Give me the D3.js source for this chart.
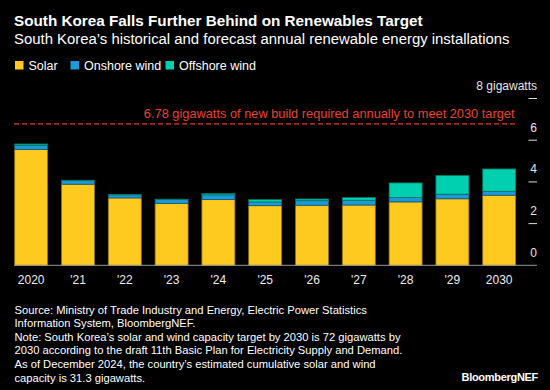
<!DOCTYPE html>
<html><head><meta charset="utf-8">
<script src="https://cdn.jsdelivr.net/npm/d3@7"></script>
<style>html,body{margin:0;padding:0;background:#000;}svg{display:block;font-family:"Liberation Sans",Arial,Helvetica,sans-serif;}</style>
</head><body>
<script>
const years = ["2020","'21","'22","'23","'24","'25","'26","'27","'28","'29","2030"];
const solar    = [5.56,3.89,3.23,2.97,3.15,2.86,2.88,2.89,3.04,3.19,3.36];
const onshore  = [0.20,0.17,0.15,0.18,0.23,0.18,0.22,0.23,0.21,0.22,0.19];
const offshore = [0.06,0.02,0.02,0.02,0.06,0.11,0.08,0.13,0.70,0.90,1.07];
const seriesNames = ["Solar","Onshore wind","Offshore wind"];
const colors = ["#FFCA1F","#1A9AD8","#00D0B0"];
const yTicks = [0,2,4,6,8];
const target = 6.78;
const targetLabel = "6.78 gigawatts of new build required annually to meet 2030 target";
const title = "South Korea Falls Further Behind on Renewables Target";
const subtitle = "South Korea\u2019s historical and forecast annual renewable energy installations";
const notes = [
 "Source: Ministry of Trade Industry and Energy, Electric Power Statistics",
 "Information System, BloombergNEF.",
 "Note: South Korea\u2019s solar and wind capacity target by 2030 is 72 gigawatts by",
 "2030 according to the draft 11th Basic Plan for Electricity Supply and Demand.",
 "As of December 2024, the country\u2019s estimated cumulative solar and wind",
 "capacity is 31.3 gigawatts."
];

const W=550,H=390;
const svg=d3.select("body").append("svg").attr("width",W).attr("height",H);
svg.append("rect").attr("width",W).attr("height",H).attr("fill","#000");

function fit(sel,target){const w=sel.node().getComputedTextLength();const fs=parseFloat(sel.attr("font-size"));sel.attr("font-size",(fs*target/w).toFixed(2));}

const t=svg.append("text").attr("x",14).attr("y",25.5).attr("fill","#fff").attr("font-weight","bold").attr("font-size",15).text(title);
fit(t,409);
const st=svg.append("text").attr("x",14).attr("y",43.5).attr("fill","#fff").attr("font-size",14).text(subtitle);
fit(st,496);

// legend
const legX=[15,70.5,165.5];
seriesNames.forEach((n,i)=>{
  svg.append("rect").attr("x",legX[i]).attr("y",61).attr("width",8.5).attr("height",8.5).attr("fill",colors[i]);
  svg.append("text").attr("x",legX[i]+13.5).attr("y",69.5).attr("fill","#fff").attr("font-size",12.5).text(n);
});

const x=d3.scaleBand().domain(years).range([14.7,515.7]).paddingInner(0.295).paddingOuter(0);
const y=d3.scaleLinear().domain([0,8]).range([265.3,98.5]);

const rows=years.map((yr,i)=>({year:yr,Solar:solar[i],"Onshore wind":onshore[i],"Offshore wind":offshore[i]}));
const stack=d3.stack().keys(seriesNames)(rows);
stack.forEach((s,si)=>{
  svg.append("g").selectAll("rect").data(s).join("rect")
   .attr("x",d=>x(d.data.year)).attr("width",x.bandwidth())
   .attr("y",d=>y(d[1])).attr("height",d=>Math.max(0,y(d[0])-y(d[1])))
   .attr("fill",colors[si]).attr("stroke",d3.color(colors[si]).darker(1.6)).attr("stroke-width",0.8);
});

// baseline
svg.append("line").attr("x1",14).attr("x2",537).attr("y1",y(0)).attr("y2",y(0)).attr("stroke","#999").attr("stroke-width",1);

// y axis right
const yAxis=svg.append("g");
yTicks.forEach(v=>{
  if(v>0) yAxis.append("line").attr("x1",528.5).attr("x2",537).attr("y1",y(v)).attr("y2",y(v)).attr("stroke","#ddd").attr("stroke-width",1);
  yAxis.append("text").attr("x",537).attr("y",y(v)-8.5).attr("text-anchor","end").attr("fill","#e6e6e6").attr("font-size",12)
   .text(v===8? "8 gigawatts": String(v));
});

// x labels
svg.append("g").selectAll("text").data(years).join("text")
  .attr("x",d=>x(d)+x.bandwidth()/2).attr("y",283.5).attr("text-anchor","middle").attr("fill","#eee").attr("font-size",12).text(d=>d);

// target line
svg.append("line").attr("x1",14).attr("x2",515.7).attr("y1",y(target)).attr("y2",y(target)).attr("stroke","#E23A2E").attr("stroke-width",1.2).attr("stroke-dasharray","5,3");
const tl=svg.append("text").attr("x",514.5).attr("y",y(target)-5.5).attr("text-anchor","end").attr("fill","#E8432F").attr("font-size",11.5).text(targetLabel);
fit(tl,371);

// notes
notes.forEach((n,i)=>{
  svg.append("text").attr("x",14.5).attr("y",313.5+i*13.6).attr("fill","#fff").attr("font-size",11.2).text(n);
});
svg.append("text").attr("x",538).attr("y",381).attr("text-anchor","end").attr("fill","#fff").attr("font-weight","bold").attr("font-size",11).attr("letter-spacing","-0.3").text("BloombergNEF");
</script>
</body></html>
